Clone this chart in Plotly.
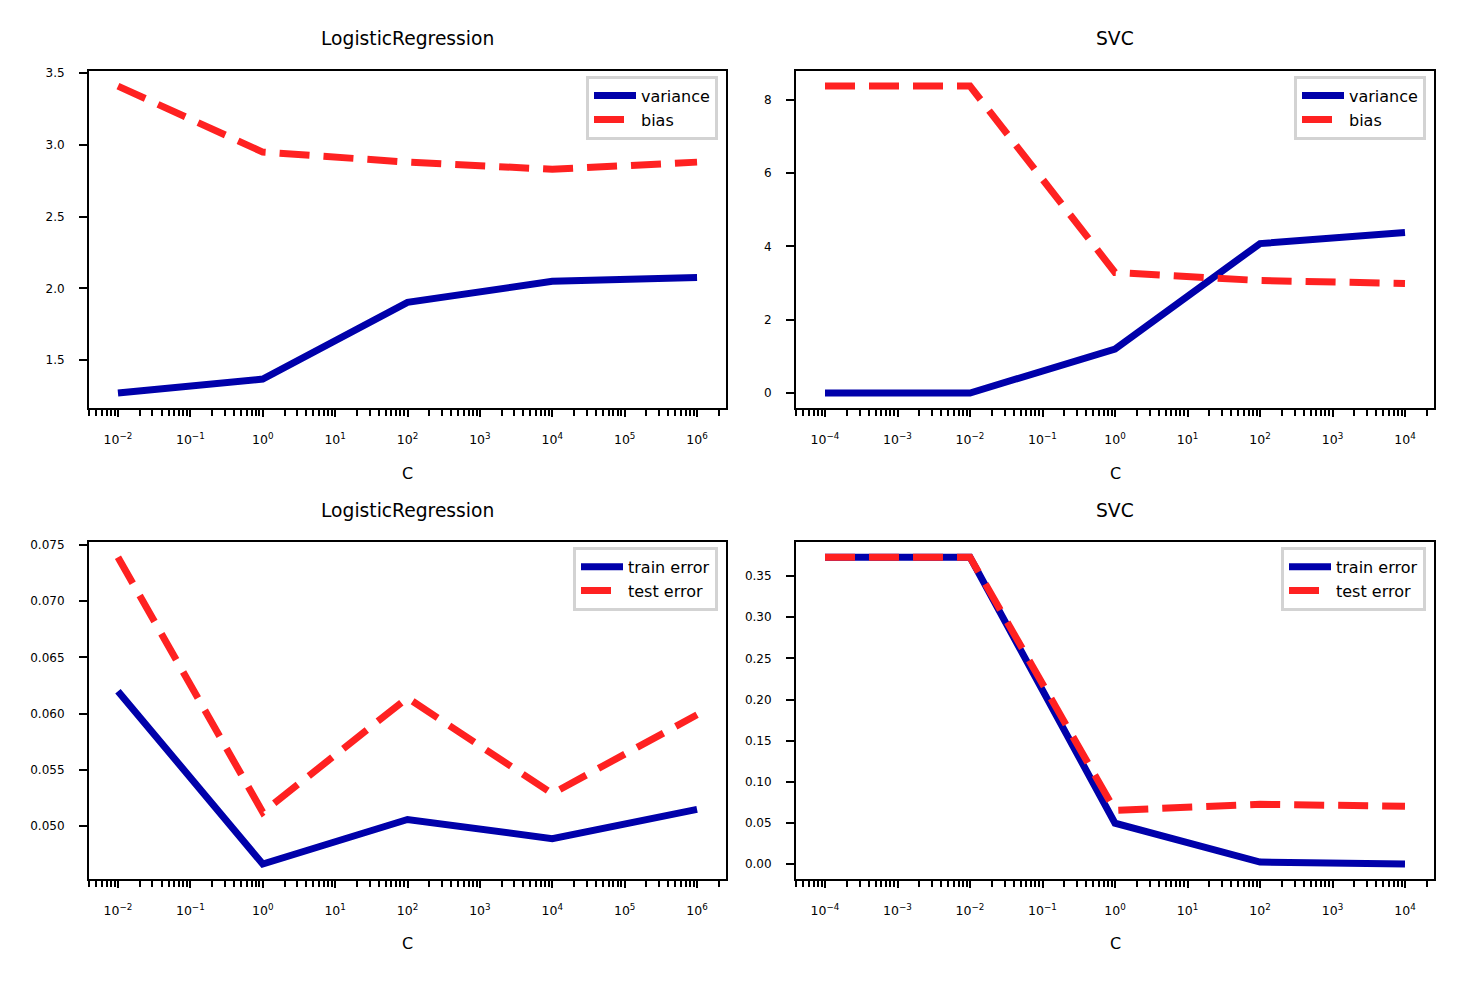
import plotly.graph_objects as go
import math

# ---------------- data ----------------
C_lr = [1e-2, 1e0, 1e2, 1e4, 1e6]
C_svc = [1e-4, 1e-2, 1e0, 1e2, 1e4]

lr_variance = [1.271, 1.368, 1.903, 2.049, 2.076]
lr_bias = [3.41, 2.95, 2.88, 2.83, 2.88]

svc_variance = [0.0, 0.0, 1.20, 4.08, 4.38]
svc_bias = [8.38, 8.38, 3.29, 3.07, 2.99]

lr_train_err = [0.0620, 0.04664, 0.0506, 0.0489, 0.0515]
lr_test_err = [0.0739, 0.05124, 0.0614, 0.0529, 0.0599]

svc_train_err = [0.373, 0.373, 0.0497, 0.0024, 0.0]
svc_test_err = [0.373, 0.373, 0.0654, 0.0727, 0.0702]

titles = ["LogisticRegression", "SVC", "LogisticRegression", "SVC"]
xlabel = "C"

# ---------------- style ----------------
W, H = 1464, 984
BLUE = "#0000aa"
RED = "#ff2121"
FONT = "DejaVu Sans"
LW = 7
DASH = "30px,14px"

# panel pixel boxes (left, top, right, bottom)
boxes = [(89, 67, 726, 406), (796, 67, 1434, 406),
         (89, 540, 726, 879), (796, 540, 1434, 879)]
title_y = [35, 35, 509, 509]
label_y = [471, 471, 943, 943]

panels = [
    (C_lr, lr_variance, lr_bias, "variance", "bias", 0.5, ".1f"),
    (C_svc, svc_variance, svc_bias, "variance", "bias", 2, "d"),
    (C_lr, lr_train_err, lr_test_err, "train error", "test error", 0.005, ".3f"),
    (C_svc, svc_train_err, svc_test_err, "train error", "test error", 0.05, ".2f"),
]


def sup(e):
    return "10<sup>%s</sup>" % (("\u2212%d" % -e) if e < 0 else str(e))


fig = go.Figure()
layout = dict(width=W, height=H, margin=dict(l=0, r=0, t=0, b=0),
              paper_bgcolor="white", plot_bgcolor="white",
              font=dict(family=FONT, color="black"), showlegend=True)
annotations = []

for i, (xs, y1, y2, n1, n2, dt, fmt) in enumerate(panels):
    k = "" if i == 0 else str(i + 1)
    leg = "legend" if i == 0 else "legend%d" % (i + 1)
    l, t, r, b = boxes[i]
    fig.add_trace(go.Scatter(x=xs, y=y1, mode="lines", name=n1,
                             line=dict(color=BLUE, width=LW),
                             xaxis="x" + k, yaxis="y" + k, legend=leg))
    fig.add_trace(go.Scatter(x=xs, y=y2, mode="lines", name=n2,
                             line=dict(color=RED, width=LW, dash=DASH),
                             xaxis="x" + k, yaxis="y" + k, legend=leg))
    lx0, lx1 = math.log10(min(xs)), math.log10(max(xs))
    mx = 0.05 * (lx1 - lx0)
    ally = y1 + y2
    ymin, ymax = min(ally), max(ally)
    my = 0.05 * (ymax - ymin)
    decades = list(range(int(math.floor(lx0 - mx)), int(math.ceil(lx1 + mx)) + 1))
    major = [10.0 ** d for d in range(int(lx0), int(lx1) + 1)]
    minor = [m * 10.0 ** d for d in decades for m in range(2, 10)]
    layout["xaxis" + k] = dict(
        type="log", domain=[l / W, r / W], anchor="y" + k,
        range=[lx0 - mx, lx1 + mx],
        tickmode="array", tickvals=major,
        ticktext=[sup(d) for d in range(int(lx0), int(lx1) + 1)],
        ticks="outside", ticklen=7, tickwidth=1.5, tickcolor="black",
        ticklabelstandoff=12,
        minor=dict(tickmode="array", tickvals=minor, ticks="outside",
                   ticklen=6, tickwidth=1.5, tickcolor="black", showgrid=False),
        showline=True, linecolor="black", linewidth=2, mirror=True,
        showgrid=False, zeroline=False,
        tickfont=dict(family=FONT, size=12.5, color="black"))
    layout["yaxis" + k] = dict(
        domain=[1 - b / H, 1 - t / H], anchor="x" + k,
        range=[ymin - my, ymax + my],
        dtick=dt, tick0=0, tickformat=fmt,
        ticks="outside", ticklen=8, tickwidth=1.5, tickcolor="black",
        ticklabelstandoff=12,
        showline=True, linecolor="black", linewidth=2, mirror=True,
        showgrid=False, zeroline=False,
        tickfont=dict(family=FONT, size=12, color="black"))
    layout[leg] = dict(x=(r - 8) / W, y=1 - (t + 5) / H,
                       xanchor="right", yanchor="top",
                       bgcolor="white", bordercolor="#d3d3d3", borderwidth=3,
                       font=dict(family=FONT, size=16, color="black"),
                       itemwidth=42)
    cx = (l + r) / 2 / W
    annotations.append(dict(text=titles[i], x=cx, y=1 - title_y[i] / H,
                            xref="paper", yref="paper", showarrow=False,
                            xanchor="center", yanchor="middle",
                            font=dict(family=FONT, size=18.7, color="black")))
    annotations.append(dict(text=xlabel, x=cx, y=1 - label_y[i] / H,
                            xref="paper", yref="paper", showarrow=False,
                            xanchor="center", yanchor="middle",
                            font=dict(family=FONT, size=16, color="black")))

layout["annotations"] = annotations
fig.update_layout(**layout)
fig.write_html("out.html")
